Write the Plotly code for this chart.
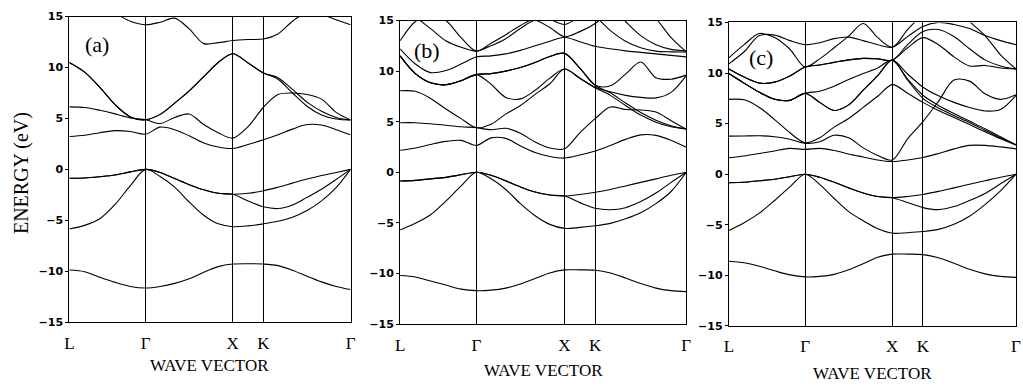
import plotly.graph_objects as go

# ---------------- k-path (symmetry points, as fractions of each panel's path) -------------
K_LABELS = ["L", "Γ", "X", "K", "Γ"]
KPOS_A = [0.0, 0.2711, 0.5810, 0.6901, 1.0]
KPOS_B = [0.0, 0.2664, 0.5744, 0.6817, 1.0]
KPOS_C = [0.0, 0.2655, 0.5690, 0.6759, 1.0]

# sampling fractions inside each segment (L-Γ, Γ-X, X-K, K-Γ)
T_LG = [0.0, 0.2, 0.4, 0.6, 0.8, 1.0]
T_GX = [1 / 6, 2 / 6, 3 / 6, 4 / 6, 5 / 6, 1.0]
T_XK = [0.5, 1.0]
T_KG = [1 / 6, 2 / 6, 3 / 6, 4 / 6, 5 / 6, 1.0]

Y_TICKS = [-15, -10, -5, 0, 5, 10, 15]

# ---------------- panel (a) bands, energies in eV read at the sampling points -------------
A_B1 = [-9.89, -10.05, -10.6, -11.1, -11.5, -11.65, -11.5, -11.2, -10.75, -10.1, -9.55, -9.3, -9.27, -9.3, -9.45, -9.9, -10.5, -11.05, -11.5, -11.8]
A_B2 = [-5.85, -5.5, -4.85, -3.45, -1.6, 0.0, -0.7, -1.75, -3.2, -4.5, -5.35, -5.63, -5.55, -5.35, -5.1, -4.7, -4.05, -3.1, -1.8, 0.0]
A_B3 = [-0.88, -0.85, -0.72, -0.55, -0.25, 0.0, -0.3, -0.9, -1.5, -2.0, -2.35, -2.45, -2.35, -2.1, -1.75, -1.35, -0.95, -0.6, -0.3, 0.0]
A_B4 = [-0.88, -0.85, -0.72, -0.55, -0.25, 0.0, -0.3, -0.9, -1.5, -2.0, -2.35, -2.45, -3.1, -3.68, -3.85, -3.5, -2.75, -1.95, -1.0, 0.0]
A_B5 = [3.23, 3.35, 3.6, 3.8, 3.72, 3.45, 4.15, 3.9, 3.3, 2.6, 2.2, 2.05, 2.45, 2.9, 3.4, 3.95, 4.4, 4.35, 3.9, 3.4]
A_B6 = [6.14, 6.08, 5.8, 5.45, 5.05, 4.87, 4.5, 5.1, 5.44, 4.4, 3.6, 3.07, 4.2, 6.1, 7.35, 7.5, 7.35, 6.9, 5.6, 4.85]
A_B7 = [10.5, 9.55, 8.05, 6.35, 5.15, 4.87, 5.4, 6.5, 7.7, 9.1, 10.5, 11.35, 10.45, 9.47, 8.85, 7.5, 6.2, 5.35, 4.95, 4.85]
A_B8 = [10.5, 9.55, 8.05, 6.35, 5.15, 4.87, 5.4, 6.5, 7.7, 9.1, 10.5, 11.35, 10.45, 9.47, 9.0, 7.85, 6.6, 5.7, 5.1, 4.85]
A_B9 = [16.5, 16.2, 15.8, 15.3, 14.55, 14.2, 14.45, 14.85, 13.8, 12.35, 12.45, 12.65, 12.75, 12.8, 13.3, 14.55, 15.4, 15.2, 14.7, 14.2]

# ---------------- panel (b) bands -------------
B_B1 = [-10.2, -10.35, -10.75, -11.15, -11.55, -11.7, -11.65, -11.45, -11.05, -10.5, -9.95, -9.65, -9.65, -9.68, -9.95, -10.45, -11.0, -11.45, -11.7, -11.8]
B_B2 = [-5.7, -5.05, -4.2, -2.85, -1.35, 0.0, -0.65, -1.7, -3.1, -4.3, -5.15, -5.55, -5.45, -5.29, -5.05, -4.6, -4.0, -3.1, -1.9, 0.0]
B_B3 = [-0.86, -0.8, -0.65, -0.5, -0.25, 0.0, -0.3, -0.85, -1.45, -1.95, -2.25, -2.35, -2.2, -1.98, -1.7, -1.35, -1.0, -0.65, -0.3, 0.0]
B_B4 = [-0.86, -0.8, -0.65, -0.5, -0.25, 0.0, -0.3, -0.85, -1.45, -1.95, -2.25, -2.35, -3.0, -3.56, -3.7, -3.5, -2.9, -2.05, -1.0, 0.0]
B_B5 = [2.17, 2.4, 2.75, 3.05, 3.15, 2.65, 3.4, 3.35, 2.6, 1.95, 1.55, 1.4, 1.7, 2.1, 2.65, 3.25, 3.7, 3.65, 3.15, 2.48]
B_B6 = [4.9, 4.9, 4.8, 4.65, 4.5, 4.4, 4.2, 4.35, 3.85, 3.0, 2.4, 2.32, 3.9, 5.3, 6.45, 6.2, 6.15, 5.95, 5.1, 4.25]
B_B7 = [8.05, 8.0, 7.3, 6.25, 5.3, 4.4, 4.75, 5.75, 6.6, 7.7, 8.75, 10.2, 9.3, 8.35, 7.6, 6.6, 5.65, 4.95, 4.5, 4.27]
B_B8 = [11.5, 9.75, 8.85, 8.65, 9.05, 9.65, 8.7, 7.4, 7.25, 8.1, 9.3, 10.2, 9.3, 8.4, 7.95, 7.6, 7.4, 7.35, 7.9, 9.55]
B_B9 = [11.5, 9.75, 8.85, 8.65, 9.05, 9.65, 9.75, 10.0, 10.35, 10.85, 11.45, 11.75, 10.3, 8.6, 8.55, 9.7, 10.9, 9.35, 9.2, 9.6]
B_B10 = [11.5, 9.75, 8.85, 8.65, 9.05, 9.65, 9.75, 10.0, 10.35, 10.85, 11.45, 11.75, 10.3, 8.6, 7.85, 6.85, 5.9, 5.15, 4.6, 4.27]
B_B11 = [12.2, 10.7, 9.85, 10.05, 10.7, 11.4, 11.5, 11.7, 12.05, 12.5, 12.95, 13.35, 12.9, 12.45, 12.2, 12.0, 11.85, 11.7, 11.55, 11.4]
B_B12 = [13.0, 14.9, 15.6, 15.0, 13.3, 11.97, 12.75, 13.6, 14.5, 15.2, 15.1, 14.6, 15.3, 15.3, 14.0, 12.95, 12.3, 11.97, 11.9, 11.88]
B_B13 = [17.0, 15.4, 14.2, 13.0, 12.35, 11.97, 12.5, 13.2, 14.2, 15.0, 14.3, 13.4, 13.9, 14.7, 16.0, 17.0, 17.0, 17.0, 17.0, 17.0]
B_B14 = [17.0, 17.0, 17.0, 17.0, 17.0, 17.0, 17.0, 17.0, 17.0, 17.0, 17.0, 17.0, 17.0, 17.0, 16.5, 14.9, 13.5, 12.6, 12.15, 12.0]
B_B15 = [17.0, 17.0, 17.0, 17.0, 17.0, 17.0, 17.0, 17.0, 17.0, 17.0, 17.0, 17.0, 17.0, 17.0, 17.0, 17.0, 16.5, 15.2, 13.3, 11.9]

# ---------------- panel (c) bands -------------
C_B1 = [-8.6, -8.75, -9.1, -9.55, -9.95, -10.15, -10.1, -9.9, -9.45, -8.85, -8.2, -7.9, -7.9, -7.95, -8.25, -8.8, -9.4, -9.85, -10.1, -10.2]
C_B2 = [-5.57, -4.8, -3.85, -2.6, -1.25, 0.0, -1.0, -2.4, -3.7, -4.6, -5.4, -5.83, -5.78, -5.67, -5.45, -4.95, -4.15, -3.0, -1.65, 0.0]
C_B3 = [-0.83, -0.8, -0.65, -0.5, -0.25, 0.0, -0.3, -0.8, -1.35, -1.85, -2.2, -2.32, -2.2, -2.0, -1.7, -1.35, -1.0, -0.65, -0.3, 0.0]
C_B4 = [-0.83, -0.8, -0.65, -0.5, -0.25, 0.0, -0.3, -0.8, -1.35, -1.85, -2.2, -2.32, -2.8, -3.3, -3.5, -3.2, -2.6, -1.9, -0.95, 0.0]
C_B5 = [1.62, 1.8, 2.05, 2.3, 2.55, 2.45, 2.55, 2.35, 2.0, 1.7, 1.4, 1.25, 1.4, 1.65, 2.05, 2.5, 2.85, 2.85, 2.7, 2.5]
C_B6 = [3.76, 3.78, 3.8, 3.7, 3.45, 3.05, 3.2, 3.85, 3.6, 2.6, 1.85, 1.4, 3.5, 5.2, 7.2, 9.3, 9.2, 7.95, 7.4, 7.85]
C_B7 = [7.4, 7.35, 6.6, 5.4, 4.1, 3.1, 3.6, 4.65, 5.5, 6.6, 7.7, 8.85, 8.0, 7.1, 6.3, 5.6, 4.9, 4.2, 3.5, 2.9]
C_B8 = [10.4, 9.6, 9.0, 9.1, 9.7, 10.6, 10.8, 11.05, 11.3, 11.45, 11.4, 11.27, 12.5, 13.5, 12.8, 11.6, 10.7, 10.75, 10.5, 10.4]
C_B9 = [10.4, 9.6, 9.0, 9.1, 9.7, 10.6, 10.8, 11.05, 11.3, 11.45, 11.4, 11.27, 12.8, 14.1, 14.3, 13.6, 12.4, 11.3, 10.7, 10.4]
C_B10 = [9.95, 9.0, 8.1, 7.4, 7.3, 8.0, 8.2, 8.7, 9.35, 9.95, 10.5, 11.27, 9.4, 7.8, 6.8, 6.0, 5.25, 4.5, 3.7, 2.9]
C_B11 = [9.95, 9.0, 8.1, 7.4, 7.3, 8.0, 7.1, 6.3, 6.85, 8.3, 9.75, 11.27, 9.3, 7.5, 6.55, 5.8, 5.1, 4.35, 3.6, 2.9]
C_B12 = [9.95, 9.0, 8.1, 7.4, 7.3, 8.0, 7.1, 6.3, 6.85, 8.3, 9.75, 11.27, 9.9, 8.6, 7.75, 7.1, 6.6, 6.25, 6.4, 7.8]
C_B13 = [11.5, 12.8, 13.9, 13.5, 12.35, 10.6, 11.4, 12.5, 13.65, 14.9, 13.5, 12.55, 14.3, 15.8, 17.0, 16.5, 15.1, 13.7, 11.8, 10.4]
C_B14 = [10.9, 12.1, 13.7, 13.75, 13.2, 12.8, 13.0, 13.4, 13.55, 13.2, 12.8, 12.55, 13.6, 14.6, 15.0, 14.8, 14.4, 13.7, 13.2, 12.8]

PANEL_A_BANDS = [A_B1, A_B2, A_B3, A_B4, A_B5, A_B6, A_B7, A_B8, A_B9]
PANEL_B_BANDS = [B_B1, B_B2, B_B3, B_B4, B_B5, B_B6, B_B7, B_B8, B_B9, B_B10,
                 B_B11, B_B12, B_B13, B_B14, B_B15]
PANEL_C_BANDS = [C_B1, C_B2, C_B3, C_B4, C_B5, C_B6, C_B7, C_B8, C_B9, C_B10,
                 C_B11, C_B12, C_B13, C_B14]

PANEL_LABELS = ["(a)", "(b)", "(c)"]

# ---------------- layout geometry (paper fractions) -------------
W, H = 1023, 390
X_DOMAINS = [[65 / W, 349 / W], [399 / W, 688 / W], [731 / W, 1021 / W]]
Y_DOMAINS = [[1 - 327 / H, 1 - 11 / H], [1 - 329 / H, 1 - 15 / H], [1 - 331 / H, 1 - 17 / H]]


def kgrid(kpos):
    xs = []
    for seg, ts in enumerate([T_LG, T_GX, T_XK, T_KG]):
        a, b = kpos[seg], kpos[seg + 1]
        for t in ts:
            xs.append(a + t * (b - a))
    return xs


fig = go.Figure()
panels = [(KPOS_A, PANEL_A_BANDS), (KPOS_B, PANEL_B_BANDS), (KPOS_C, PANEL_C_BANDS)]
for i, (kpos, bands) in enumerate(panels):
    xs = kgrid(kpos)
    suffix = "" if i == 0 else str(i + 1)
    for band in bands:
        fig.add_trace(go.Scatter(
            x=xs, y=band, mode="lines",
            line=dict(color="black", width=1.1, shape="spline", smoothing=0.9),
            xaxis="x" + suffix, yaxis="y" + suffix,
            hoverinfo="skip", showlegend=False, cliponaxis=True,
        ))

layout = dict(
    width=W, height=H,
    margin=dict(l=0, r=0, t=0, b=0),
    paper_bgcolor="white", plot_bgcolor="white",
    showlegend=False,
)
annotations = []
for i, (kpos, _) in enumerate(panels):
    suffix = "" if i == 0 else str(i + 1)
    layout["xaxis" + suffix] = dict(
        domain=X_DOMAINS[i], range=[0, 1], anchor="y" + suffix,
        tickmode="array", tickvals=kpos, ticktext=K_LABELS,
        showgrid=True, gridcolor="black", gridwidth=1,
        showline=True, mirror=True, linecolor="black", linewidth=1.2,
        ticks="outside", ticklen=5, tickcolor="rgba(0,0,0,0)",
        tickfont=dict(family="Liberation Serif", size=17, color="black"),
        zeroline=False, fixedrange=True,
    )
    layout["yaxis" + suffix] = dict(
        domain=Y_DOMAINS[i], range=[-15, 15], anchor="x" + suffix,
        tickmode="array", tickvals=Y_TICKS,
        showgrid=False, zeroline=False,
        showline=True, mirror=True, linecolor="black", linewidth=1.2,
        ticks="outside", ticklen=3, tickcolor="black",
        tickfont=dict(family="DejaVu Sans", size=11, color="black", weight="bold"),
        fixedrange=True,
    )
    annotations.append(dict(
        text="WAVE VECTOR", xref="paper", yref="paper",
        x=sum(X_DOMAINS[i]) / 2, y=[1 - 372 / H, 1 - 377 / H, 1 - 380 / H][i],
        showarrow=False, xanchor="center", yanchor="middle",
        font=dict(family="Liberation Serif", size=17, color="black"),
    ))
    annotations.append(dict(
        text=PANEL_LABELS[i], xref="paper", yref="paper",
        x=[93, 426, 763][i] / W, y=1 - [40, 46, 53][i] / H,
        showarrow=False, xanchor="center", yanchor="middle",
        font=dict(family="Liberation Serif", size=22, color="black"),
    ))
annotations.append(dict(
    text="ENERGY (eV)", xref="paper", yref="paper",
    x=16 / W, y=1 - 173 / H, textangle=-90,
    showarrow=False, xanchor="center", yanchor="middle",
    font=dict(family="Liberation Serif", size=20, color="black"),
))
layout["annotations"] = annotations
fig.update_layout(**layout)

fig.write_html("out.html", config={"displayModeBar": False},
               post_script="document.body.style.margin='0px';")
